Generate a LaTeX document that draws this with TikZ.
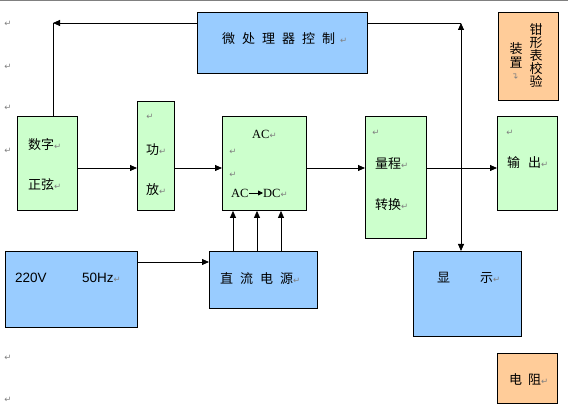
\documentclass[tikz,border=0pt]{standalone}
\usepackage{fontspec}
\setmainfont{Liberation Serif}
\newfontfamily\cjk{Noto Sans CJK SC}
\newfontfamily\arialf{Liberation Sans}
\newfontfamily\symf{DejaVu Sans}
\usetikzlibrary{arrows.meta}
\definecolor{boxblue}{HTML}{99CCFF}
\definecolor{boxgreen}{HTML}{CCFFCC}
\definecolor{boxorange}{HTML}{FFCC99}
\newcommand{\ret}{{\symf\fontsize{8.5}{8.5}\selectfont\textcolor{gray}{↵}}}
\newcommand{\gp}{\hspace{7pt}}

\begin{document}
\begin{tikzpicture}[
        x=1pt, y=-1pt,
        box/.style={draw, line width=0.9pt, anchor=north west, inner sep=0pt},
        txt/.style={anchor=west, inner sep=0pt, font=\cjk\fontsize{13}{15}\selectfont},
        latin/.style={anchor=west, inner sep=0pt, font=\fontsize{12.5}{15}\selectfont},
        retmark/.style={inner sep=0pt},
        arr/.style={-{Triangle[length=7pt,width=6pt]}, line width=0.8pt},
        line/.style={line width=0.8pt}
    ]
 \useasboundingbox (0,0) rectangle (568,414);
 \draw[gray, line width=1pt] (0,1) -- (568,1);

 \node[box, fill=boxblue, minimum width=170pt, minimum height=61pt] (mcu) at (197,12) {};
 \node[box, fill=boxorange, minimum width=60pt, minimum height=88pt] (clamp) at (498,12) {};
 \node[box, fill=boxgreen, minimum width=60pt, minimum height=94pt] (sine) at (17,116) {};
 \node[box, fill=boxgreen, minimum width=37pt, minimum height=109pt] (amp) at (137,101) {};
 \node[box, fill=boxgreen, minimum width=84pt, minimum height=94pt] (acdc) at (222,116) {};
 \node[box, fill=boxgreen, minimum width=61pt, minimum height=122pt] (range) at (365,116) {};
 \node[box, fill=boxgreen, minimum width=60pt, minimum height=94pt] (out) at (497,116) {};
 \node[box, fill=boxblue, minimum width=132pt, minimum height=76pt] (mains) at (5,251) {};
 \node[box, fill=boxblue, minimum width=108pt, minimum height=57pt] (dc) at (209,251) {};
 \node[box, fill=boxblue, minimum width=108pt, minimum height=85pt] (disp) at (413,251) {};
 \node[box, fill=boxorange, minimum width=60pt, minimum height=50pt] (res) at (497,353) {};

 \node[txt] (mcutxt) at (222,39) {微\gp 处\gp 理\gp 器\gp 控\gp 制\hspace{5pt}\ret};
 \node[txt, anchor=north, align=center, font=\cjk\fontsize{13}{13}\selectfont] (clampa) at (536,23) {钳\\形\\表\\校\\验};
 \node[txt, anchor=north, align=center, font=\cjk\fontsize{13}{14}\selectfont] (clampb) at (516,42) {装\\置};
 \node[retmark, rotate=90] (clampr) at (516,76) {\ret};
 \node[txt] (sinea) at (28,145) {数字\ret};
 \node[txt] (sineb) at (28,185) {正弦\ret};
 \node[retmark] (ampr) at (150,117) {\ret};
 \node[txt] (ampa) at (146,150) {功\ret};
 \node[txt] (ampb) at (146,190) {放\ret};
 \node[latin] (aca) at (252,134) {AC\ret};
 \node[retmark] (acr1) at (233,152) {\ret};
 \node[retmark] (acr2) at (233,175) {\ret};
 \node[latin] (acb) at (231,193) {AC};
 \node[latin] (acc) at (263,193) {DC\ret};
 \draw[-{Triangle[length=5pt,width=5pt]}, line width=0.8pt] (acb.east) -- (acc.west);
 \node[retmark] (ranger) at (376,133) {\ret};
 \node[txt] (rangea) at (375,164) {量程\ret};
 \node[txt] (rangeb) at (375,205) {转换\ret};
 \node[retmark] (outr) at (510,133) {\ret};
 \node[txt] (outa) at (507,163) {输\hspace{8pt}出\ret};
 \node[latin, font=\arialf\fontsize{13.5}{15}\selectfont] (mainsa) at (15,278) {220V};
 \node[latin, font=\arialf\fontsize{13.5}{15}\selectfont] (mainsb) at (82,278) {50Hz\ret};
 \node[txt] (dctxt) at (220,279) {直\gp 流\gp 电\gp 源\ret};
 \node[txt] (dispa) at (437,278) {显};
 \node[txt] (dispb) at (480,278) {示\ret};
 \node[txt] (restxt) at (509,380) {电\hspace{6pt}阻\ret};

 \foreach \y in {24,67,108,151,358,400}
   \node[retmark] at (8,\y) {\ret};

 \coordinate (topl) at (53,23);
 \coordinate (topr) at (461,23);
 \coordinate (mainline) at (0,168);
 \coordinate (pwrline) at (0,262);

 \draw[arr] (mcu.west |- topl) -- (topl);
 \draw[line] (topl) -- (topl |- sine.north);
 \draw[line] (mcu.east |- topr) -- (topr);
 \draw[{Triangle[length=7pt,width=6pt]}-{Triangle[length=7pt,width=6pt]}, line width=0.8pt] (topr) -- (topr |- disp.north);

 \draw[arr] (sine.east |- mainline) -- (amp.west |- mainline);
 \draw[arr] (amp.east |- mainline) -- (acdc.west |- mainline);
 \draw[arr] (acdc.east |- mainline) -- (range.west |- mainline);
 \draw[arr] (range.east |- mainline) -- (out.west |- mainline);
 \draw[arr] (mains.east |- pwrline) -- (dc.west |- pwrline);
 \foreach \x in {233,257,281}
   \draw[arr] (\x,0 |- dc.north) -- (\x,0 |- acdc.south);
\end{tikzpicture}
\end{document}
